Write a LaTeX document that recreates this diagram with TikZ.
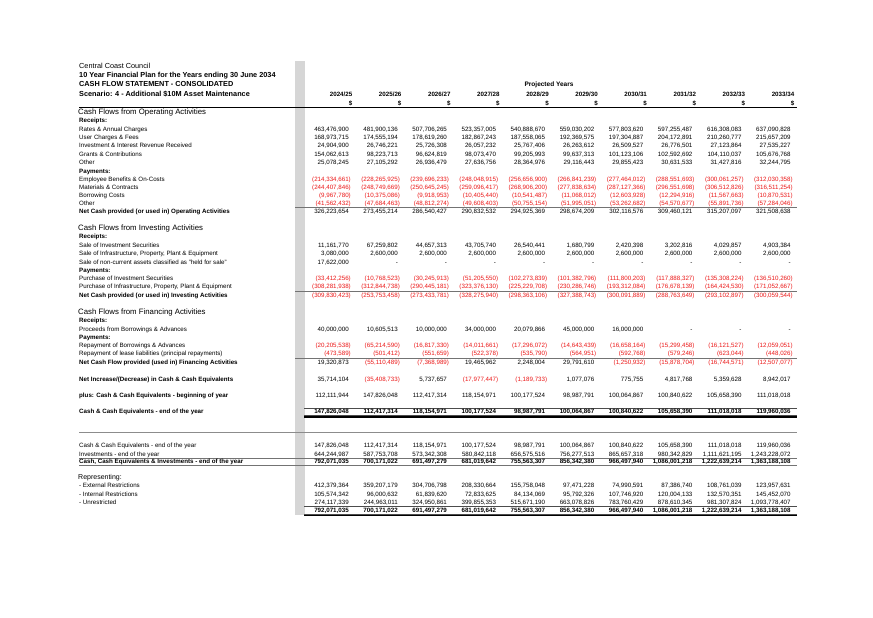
\documentclass[tikz,border=0pt]{standalone}
\usepackage{fontspec}
\setmainfont{Liberation Sans}
\definecolor{negred}{RGB}{236,24,24}
\definecolor{barfill}{RGB}{214,214,214}
\newcommand\fmtval[1]{\expandafter\fmtvalx#1\relax}
\def\fmtvalx#1#2\relax{\ifx(#1\textcolor{negred}{#1#2}\else#1#2\phantom{)}\fi}
\newcommand\datarow[4][]{\foreach \val [count=\col from 0] in {#4} {\node[num,#1] (#2-\col) at ({351+49.1*\col},#3) {\fmtval{\val}};}}

\begin{document}
\begin{tikzpicture}[x=1pt, y=-1pt,
  lbl/.style={anchor=base west, inner sep=0pt, font=\fontsize{6.2}{7}\selectfont},
  lblb/.style={lbl, font=\fontsize{6.2}{7}\selectfont\bfseries},
  num/.style={anchor=base east, inner sep=0pt, font=\fontsize{6.2}{7}\selectfont},
  numb/.style={font=\fontsize{6.2}{7}\selectfont\bfseries},
  sect/.style={lbl, font=\fontsize{7.8}{9}\selectfont},
  ttl/.style={lbl, font=\fontsize{7.3}{9}\selectfont\bfseries},
  rule/.style={black!55, line width=0.7pt},
  heavy/.style={black, line width=1.3pt}]
\fill[white] (0,0) rectangle (873,618);
\useasboundingbox (0,0) rectangle (873,618);
\fill[barfill] (295,61) rectangle (304.5,515);

% title block
\node[ttl, font=\fontsize{7.3}{9}\selectfont] (council) at (79,68.3) {Central Coast Council};
\node[ttl] (plan) at (79,77.6) {10 Year Financial Plan for the Years ending 30 June 2034};
\node[ttl] (stmt) at (79,86.9) {CASH FLOW STATEMENT - CONSOLIDATED};
\node[ttl] (scen) at (79,96.3) {Scenario: 4 - Additional \$10M Asset Maintenance};
\node[anchor=base, inner sep=0pt, font=\fontsize{6.5}{8}\selectfont\bfseries] (proj) at (549,86.6) {Projected Years};
\foreach \yr [count=\col from 0] in {2024/25,2025/26,2026/27,2027/28,2028/29,2029/30,2030/31,2031/32,2032/33,2033/34} {
  \node[num, numb] (yr-\col) at ({352.5+49.1*\col},96.5) {\yr};
  \node[num, numb] (usd-\col) at ({352.5+49.1*\col},105.5) {\$};
}
\draw[heavy] (79,107.3) -- (797,107.3);

% operating
\node[sect] (secop) at (78,114.8) {Cash Flows from Operating Activities};
\node[lblb] (oprec) at (79,122.5) {Receipts:};
\node[lbl] (lrates) at (79,131.2) {Rates \& Annual Charges};
\datarow{rates}{131.2}{{463,476,900},{481,900,136},{507,706,265},{523,357,005},{540,888,670},{559,030,202},{577,803,620},{597,255,487},{616,308,083},{637,090,828}}
\node[lbl] (luser) at (79,139.5) {User Charges \& Fees};
\datarow{user}{139.5}{{168,973,715},{174,555,194},{178,619,260},{182,867,243},{187,558,065},{192,369,575},{197,304,887},{204,172,891},{210,260,777},{215,657,209}}
\node[lbl] (linv) at (79,147.9) {Investment \& Interest Revenue Received};
\datarow{inv}{147.9}{{24,904,900},{26,746,221},{25,726,308},{26,057,232},{25,767,406},{26,263,612},{26,509,527},{26,776,501},{27,123,864},{27,535,227}}
\node[lbl] (lgrants) at (79,156.2) {Grants \& Contributions};
\datarow{grants}{156.2}{{154,062,613},{98,223,713},{96,624,819},{98,073,470},{99,205,993},{99,637,313},{101,123,106},{102,592,692},{104,110,037},{105,676,768}}
\node[lbl] (lother) at (79,164.5) {Other};
\datarow{other}{164.5}{{25,078,245},{27,105,292},{26,936,479},{27,636,756},{28,364,976},{29,116,443},{29,855,423},{30,631,533},{31,427,816},{32,244,795}}
\node[lblb] (oppay) at (79,173.2) {Payments:};
\node[lbl] (lemp) at (79,181.5) {Employee Benefits \& On-Costs};
\datarow{emp}{181.5}{{(214,334,661)},{(228,265,925)},{(239,696,233)},{(248,048,915)},{(256,656,900)},{(266,841,239)},{(277,464,012)},{(288,551,693)},{(300,061,257)},{(312,030,358)}}
\node[lbl] (lmat) at (79,189.9) {Materials \& Contracts};
\datarow{mat}{189.9}{{(244,407,846)},{(248,749,669)},{(250,645,245)},{(259,096,417)},{(268,906,200)},{(277,838,634)},{(287,127,366)},{(296,551,698)},{(306,512,826)},{(316,511,254)}}
\node[lbl] (lborr) at (79,197.9) {Borrowing Costs};
\datarow{borr}{197.9}{{(9,967,780)},{(10,375,086)},{(9,918,953)},{(10,405,440)},{(10,541,487)},{(11,068,012)},{(12,603,928)},{(12,294,916)},{(11,567,663)},{(10,870,531)}}
\node[lbl] (lotherp) at (79,205.7) {Other};
\datarow{otherp}{205.7}{{(41,562,432)},{(47,684,463)},{(48,812,274)},{(49,608,403)},{(50,755,154)},{(51,995,051)},{(53,262,682)},{(54,570,677)},{(55,891,736)},{(57,284,046)}}
\draw[rule] (295,207.8) -- (797,207.8);
\node[lblb] (lnetop) at (79,213.9) {Net Cash provided (or used in) Operating Activities};
\datarow{netop}{213.9}{{326,223,654},{273,455,214},{286,540,427},{290,832,532},{294,925,369},{298,674,209},{302,116,576},{309,460,121},{315,207,097},{321,508,638}}

% investing
\node[sect] (secinv) at (78,230.5) {Cash Flows from Investing Activities};
\node[lblb] (invrec) at (79,238.9) {Receipts:};
\node[lbl] (lsaleinv) at (79,247.4) {Sale of Investment Securities};
\datarow{saleinv}{247.4}{{11,161,770},{67,259,802},{44,657,313},{43,705,740},{26,540,441},{1,680,799},{2,420,398},{3,202,816},{4,029,857},{4,903,384}}
\node[lbl] (lsaleppe) at (79,255.9) {Sale of Infrastructure, Property, Plant \& Equipment};
\datarow{saleppe}{255.9}{{3,080,000},{2,600,000},{2,600,000},{2,600,000},{2,600,000},{2,600,000},{2,600,000},{2,600,000},{2,600,000},{2,600,000}}
\node[lbl] (lhfs) at (79,264.2) {Sale of non-current assets classified as "held for sale"};
\datarow{hfs}{264.2}{{17,622,000},-,-,-,-,-,-,-,-,-}
\node[lblb] (invpay) at (79,272.4) {Payments:};
\node[lbl] (lbuyinv) at (79,280.9) {Purchase of Investment Securities};
\datarow{buyinv}{280.9}{{(33,412,256)},{(10,768,523)},{(30,245,913)},{(51,205,550)},{(102,273,839)},{(101,382,796)},{(111,800,203)},{(117,888,327)},{(135,308,224)},{(136,510,260)}}
\node[lbl] (lbuyppe) at (79,288.9) {Purchase of Infrastructure, Property, Plant \& Equipment};
\datarow{buyppe}{288.9}{{(308,281,938)},{(312,844,738)},{(290,445,181)},{(323,376,130)},{(225,229,708)},{(230,286,746)},{(193,312,084)},{(176,678,139)},{(164,424,530)},{(171,052,667)}}
\draw[rule] (295,291.8) -- (797,291.8);
\node[lblb] (lnetinv) at (79,297.5) {Net Cash provided (or used in) Investing Activities};
\datarow{netinv}{297.5}{{(309,830,423)},{(253,753,458)},{(273,433,781)},{(328,275,940)},{(298,363,106)},{(327,388,743)},{(300,091,889)},{(288,763,649)},{(293,102,897)},{(300,059,544)}}

% financing
\node[sect] (secfin) at (78,314.5) {Cash Flows from Financing Activities};
\node[lblb] (finrec) at (79,322.2) {Receipts:};
\node[lbl] (lproc) at (79,331.2) {Proceeds from Borrowings \& Advances};
\datarow{proc}{331.2}{{40,000,000},{10,605,513},{10,000,000},{34,000,000},{20,079,866},{45,000,000},{16,000,000},-,-,-}
\node[lblb] (finpay) at (79,339.2) {Payments:};
\node[lbl] (lrepay) at (79,347.5) {Repayment of Borrowings \& Advances};
\datarow{repay}{347.5}{{(20,205,538)},{(65,214,590)},{(16,817,330)},{(14,011,661)},{(17,296,072)},{(14,643,439)},{(16,658,164)},{(15,299,458)},{(16,121,527)},{(12,059,051)}}
\node[lbl] (llease) at (79,355.9) {Repayment of lease liabilities (principal repayments)};
\datarow{lease}{355.9}{{(473,589)},{(501,412)},{(551,659)},{(522,378)},{(535,790)},{(564,951)},{(592,768)},{(579,246)},{(623,044)},{(448,026)}}
\draw[rule] (295,358.6) -- (797,358.6);
\node[lblb] (lnetfin) at (79,364.2) {Net Cash Flow provided (used in) Financing Activities};
\datarow{netfin}{364.2}{{19,320,873},{(55,110,489)},{(7,368,989)},{19,465,962},{2,248,004},{29,791,610},{(1,250,932)},{(15,878,704)},{(16,744,571)},{(12,507,077)}}

% movement in cash
\node[lblb] (lincr) at (79,381.2) {Net Increase/(Decrease) in Cash \& Cash Equivalents};
\datarow{incr}{381.2}{{35,714,104},{(35,408,733)},{5,737,657},{(17,977,447)},{(1,189,733)},{1,077,076},{775,755},{4,817,768},{5,359,628},{8,942,017}}
\node[lblb] (lopen) at (79,397.9) {plus: Cash \& Cash Equivalents - beginning of year};
\datarow{open}{397.9}{{112,111,944},{147,826,048},{112,417,314},{118,154,971},{100,177,524},{98,987,791},{100,064,867},{100,840,622},{105,658,390},{111,018,018}}
\draw[black!70, line width=0.6pt] (304,408.3) -- (797,408.3);
\node[lblb] (lclose) at (79,413.2) {Cash \& Cash Equivalents - end of the year};
\datarow[numb]{close}{413.2}{{147,826,048},{112,417,314},{118,154,971},{100,177,524},{98,987,791},{100,064,867},{100,840,622},{105,658,390},{111,018,018},{119,960,036}}
\draw[black!70, line width=0.5pt] (304,415.2) -- (797,415.2);
\draw[black, line width=1.1pt] (304,417) -- (797,417);

% cash and investments
\draw[black!45, line width=0.9pt] (79,432.7) -- (797,432.7);
\node[lbl] (lcash) at (79,447.9) {Cash \& Cash Equivalents - end of the year};
\datarow{cash}{447.9}{{147,826,048},{112,417,314},{118,154,971},{100,177,524},{98,987,791},{100,064,867},{100,840,622},{105,658,390},{111,018,018},{119,960,036}}
\node[lbl] (linvest) at (79,456.2) {Investments - end of the year};
\datarow{invest}{456.2}{{644,244,987},{587,753,708},{573,342,308},{580,842,118},{656,575,516},{756,277,513},{865,657,318},{980,342,829},{1,111,621,195},{1,243,228,072}}
\draw[rule] (79,457.9) -- (797,457.9);
\node[lblb] (ltotal) at (79,463.9) {Cash, Cash Equivalents \& Investments - end of the year};
\datarow[numb]{total}{463.9}{{792,071,035},{700,171,022},{691,497,279},{681,019,642},{755,563,307},{856,342,380},{966,497,940},{1,086,001,218},{1,222,639,214},{1,363,188,108}}
\draw[rule] (79,465.4) -- (797,465.4);

% representing
\node[sect, font=\fontsize{7}{8}\selectfont] (lrep) at (78,479.2) {Representing:};
\node[lbl] (lext) at (79,487.9) {- External Restrictions};
\datarow{ext}{487.9}{{412,379,364},{359,207,179},{304,706,798},{208,330,664},{155,758,048},{97,471,228},{74,990,591},{87,386,740},{108,761,039},{123,957,631}}
\node[lbl] (lint) at (79,496.2) {- Internal Restrictions};
\datarow{int}{496.2}{{105,574,342},{96,000,632},{61,839,620},{72,833,625},{84,134,069},{95,792,326},{107,746,920},{120,004,133},{132,570,351},{145,452,070}}
\node[lbl] (lunr) at (79,504.5) {- Unrestricted};
\datarow{unr}{504.5}{{274,117,339},{244,963,011},{324,950,861},{399,855,353},{515,671,190},{663,078,826},{783,760,429},{878,610,345},{981,307,824},{1,093,778,407}}
\draw[black!70, line width=0.6pt] (304,506.6) -- (797,506.6);
\datarow[numb]{reptot}{512.7}{{792,071,035},{700,171,022},{691,497,279},{681,019,642},{755,563,307},{856,342,380},{966,497,940},{1,086,001,218},{1,222,639,214},{1,363,188,108}}
\draw[black!70, line width=0.5pt] (304,514.3) -- (797,514.3);
\draw[black, line width=1pt] (304,515.8) -- (797,515.8);
\end{tikzpicture}
\end{document}
